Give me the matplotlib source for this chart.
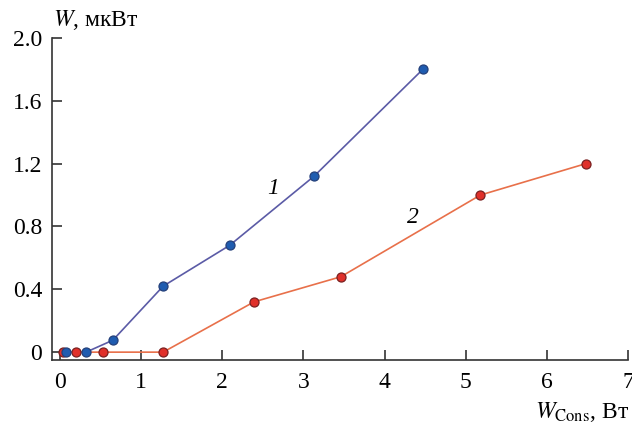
import numpy as np
import matplotlib.pyplot as plt

plt.rcParams['font.family'] = ['Liberation Serif', 'DejaVu Serif']
plt.rcParams['mathtext.fontset'] = 'stix'

# curve 1
x1 = [0.07, 0.32, 0.65, 1.27, 2.09, 3.13, 4.47]
w1 = [0.0, 0.0, 0.076, 0.42, 0.68, 1.12, 1.80]
# curve 2
x2 = [0.04, 0.20, 0.53, 1.27, 2.39, 3.46, 5.18, 6.48]
w2 = [0.0, 0.0, 0.0, 0.0, 0.32, 0.48, 1.00, 1.20]

fig = plt.figure(figsize=(6.32, 4.30), dpi=100)
ax = fig.add_axes([52 / 632, 1 - 360 / 430, 576 / 632, 322 / 430])

ax.plot(x1, w1, color='#5b5ba6', lw=1.2, zorder=2)
ax.plot(x2, w2, color='#e8704a', lw=1.2, zorder=2)
ax.plot(x2, w2, 'o', ms=6.5, mfc='#e0302a', mec='#7a2020', mew=0.9, zorder=3)
ax.plot(x1, w1, 'o', ms=6.5, mfc='#1f5cb0', mec='#24407a', mew=0.9, zorder=4)

ax.set_xlim(-0.1, 7)
ax.set_ylim(-0.05, 2.0)
ax.set_xticks(range(8))
ax.set_yticks([0, 0.4, 0.8, 1.2, 1.6, 2.0])
ax.set_yticklabels(['0', '0.4', '0.8', '1.2', '1.6', '2.0'])

for s in ['top', 'right']:
    ax.spines[s].set_visible(False)
for s in ['left', 'bottom']:
    ax.spines[s].set_linewidth(1.2)
    ax.spines[s].set_color('#333333')

ax.tick_params(direction='in', length=7, width=1.2, color='#333333',
               labelsize=17, pad=7)
ax.tick_params(axis='x', pad=9)

ax.text(2.62, 1.04, '1', fontsize=17, style='italic', ha='center', va='center')
ax.text(4.35, 0.86, '2', fontsize=17, style='italic', ha='center', va='center')

fig.text(53 / 632, 1 - 20 / 430, '$W$, мкВт', fontsize=17, ha='left', va='center')
fig.text(629 / 632, 1 - 412 / 430, r'$W_{\mathrm{Cons}}$, Вт', fontsize=17,
         ha='right', va='center')

fig.savefig('out.png', dpi=100)
